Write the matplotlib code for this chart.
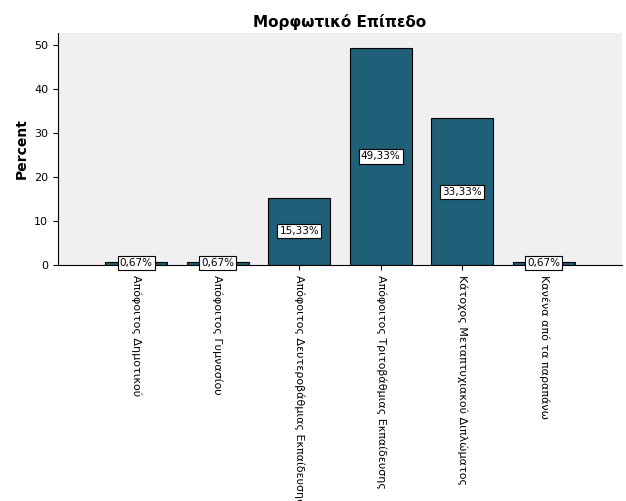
import matplotlib
matplotlib.use('Agg')
import matplotlib.pyplot as plt

categories = ['Απόφοιτος Δημοτικού', 'Απόφοιτος Γυμνασίου',
              'Απόφοιτος Δευτεροβάθμιας Εκπαίδευσης',
              'Απόφοιτος Τριτοβάθμιας Εκπαίδευσης',
              'Κάτοχος Μεταπτυχιακού Διπλώματος',
              'Κανένα από τα παραπάνω']
percents = [0.67, 0.67, 15.33, 49.33, 33.33, 0.67]
yticks = [0, 10, 20, 30, 40, 50]

fig = plt.figure(figsize=(6.26, 5.01), dpi=100)
ax = fig.add_axes([58 / 626, 1 - 265 / 501, 564 / 626, 232 / 501])
ax.set_facecolor('#f0f0f0')
x = list(range(len(categories)))
ax.bar(x, percents, width=0.76, color='#1f5f78', edgecolor='black', linewidth=0.8)
for xi, v in zip(x, percents):
    ax.text(xi, max(v / 2, 0.4), f'{v:.2f}%'.replace('.', ','), ha='center', va='center',
            fontsize=7.5, bbox=dict(facecolor='white', edgecolor='black', pad=1.5, linewidth=0.8))
ax.set_xlim(-0.96, 5.96)
ax.set_ylim(0, 52.7)
ax.set_yticks(yticks)
ax.set_xticks(x)
ax.set_xticklabels(categories, rotation=270, fontsize=8, ha='left', va='center',
                   rotation_mode='anchor')
ax.tick_params(axis='y', labelsize=8)
ax.set_ylabel('Percent', fontsize=10, fontweight='bold')
ax.set_title('Μορφωτικό Επίπεδο', fontsize=11, fontweight='bold', pad=4)
for s in ['top', 'right']:
    ax.spines[s].set_visible(False)
fig.savefig('out.png', dpi=100)
